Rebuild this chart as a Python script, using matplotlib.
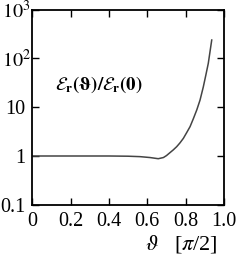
import matplotlib
matplotlib.use("Agg")
import matplotlib.pyplot as plt
import matplotlib.transforms as mtransforms
import numpy as np

theta = [0.0, 0.1, 0.2, 0.3, 0.4, 0.5, 0.562, 0.614, 0.657, 0.684, 0.70, 0.718, 0.735, 0.753, 0.770, 0.788, 0.805, 0.823, 0.840, 0.858, 0.875, 0.892, 0.905, 0.918, 0.936]
ratio = [1.0, 1.0, 1.0, 1.0, 1.0, 0.99, 0.97, 0.93, 0.88, 0.93, 1.02, 1.17, 1.33, 1.55, 1.85, 2.3, 3.0, 4.0, 5.8, 8.8, 14, 26, 45, 79, 238]

xticks = [0, 0.2, 0.4, 0.6, 0.8, 1.0]
xticklabels = ['0', '0.2', '0.4', '0.6', '0.8', '1.0']
yticks = [0.1, 1, 10, 100, 1000]
yticklabels = ['0.1', '1', '10', r'$10^2$', r'$10^3$']

plt.rcParams['font.family'] = ['Liberation Serif', 'DejaVu Serif']
plt.rcParams['mathtext.fontset'] = 'stix'

fig = plt.figure(figsize=(2.41, 2.57), dpi=100)
ax = fig.add_axes([32.3/241, 1 - 204.8/257, (224 - 32.3)/241, (204.8 - 9.6)/257])
ax.plot(theta, ratio, color='#444444', lw=1.1)
ax.set_yscale('log')
ax.set_xlim(0, 1.0)
ax.set_ylim(0.1, 1000)
ax.set_xticks(xticks)
ax.set_xticklabels(xticklabels)
ax.set_yticks(yticks)
ax.set_yticklabels(yticklabels)
ax.minorticks_off()
ax.tick_params(direction='in', top=True, right=True, length=5, width=1, labelsize=14.5)
ax.tick_params(axis='x', pad=5)
ax.tick_params(axis='y', pad=5)
for s in ax.spines.values():
    s.set_linewidth(1.3)

shift = mtransforms.ScaledTranslation(4/72, 0, fig.dpi_scale_trans)
for lab in ax.get_yticklabels():
    if '^' in lab.get_text():
        lab.set_transform(lab.get_transform() + shift)

fig.text(55/241, 1 - 85/257, r'$\mathbf{\mathcal{E}_r(\vartheta)/\mathcal{E}_r(0)}$',
         fontsize=13.5, ha='left', va='center', fontweight='bold')
fig.text(218/241, 1 - 244/257, r'$\vartheta$   [$\pi$/2]', fontsize=16, ha='right', va='center')

fig.savefig('out.png', dpi=100)
